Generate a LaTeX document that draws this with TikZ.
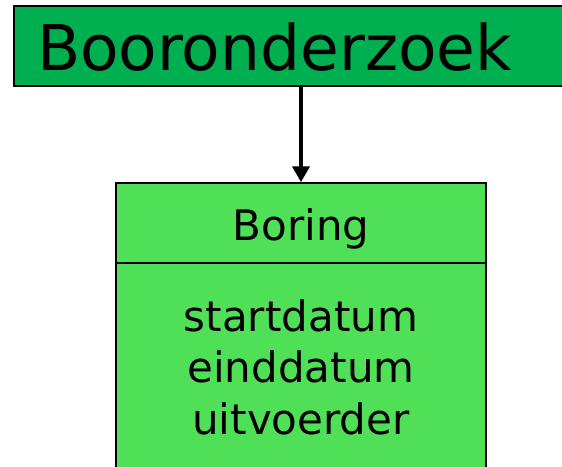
\documentclass[tikz,border=0pt]{standalone}
\usepackage{fontspec}
\setmainfont{DejaVu Sans}
\usetikzlibrary{arrows.meta}
\definecolor{darkgreen}{RGB}{0,176,80}
\definecolor{lightgreen}{RGB}{80,224,88}
\tikzstyle{titlebox}=[rectangle,draw,line width=1.2pt,fill=darkgreen,minimum height=80pt,inner xsep=23pt,text width=510pt,align=left,text height=52pt,text depth=4pt,font=\fontsize{63}{63}\selectfont]
\tikzstyle{classbox}=[rectangle,draw,line width=1.5pt,fill=lightgreen,minimum width=370pt,align=center,font=\fontsize{42}{51.5}\selectfont]

\begin{document}
\begin{tikzpicture}[x=1pt,y=1pt]
            \useasboundingbox (0,0) rectangle (562,-466);
            \node (booronderzoek) at (292,-46) [titlebox] {Booronderzoek};
            \node (boring) at (301,-223) [classbox,minimum height=80pt,text height=40pt,text depth=6pt] {Boring};
            \node (attrs) at (301,-367) [classbox,minimum height=208pt] {startdatum\\einddatum\\uitvoerder};
            \draw[line width=4pt,-{Triangle[width=17pt,length=16pt]}] (booronderzoek.south -| boring.north) -- (boring.north);
        \end{tikzpicture}
\end{document}
